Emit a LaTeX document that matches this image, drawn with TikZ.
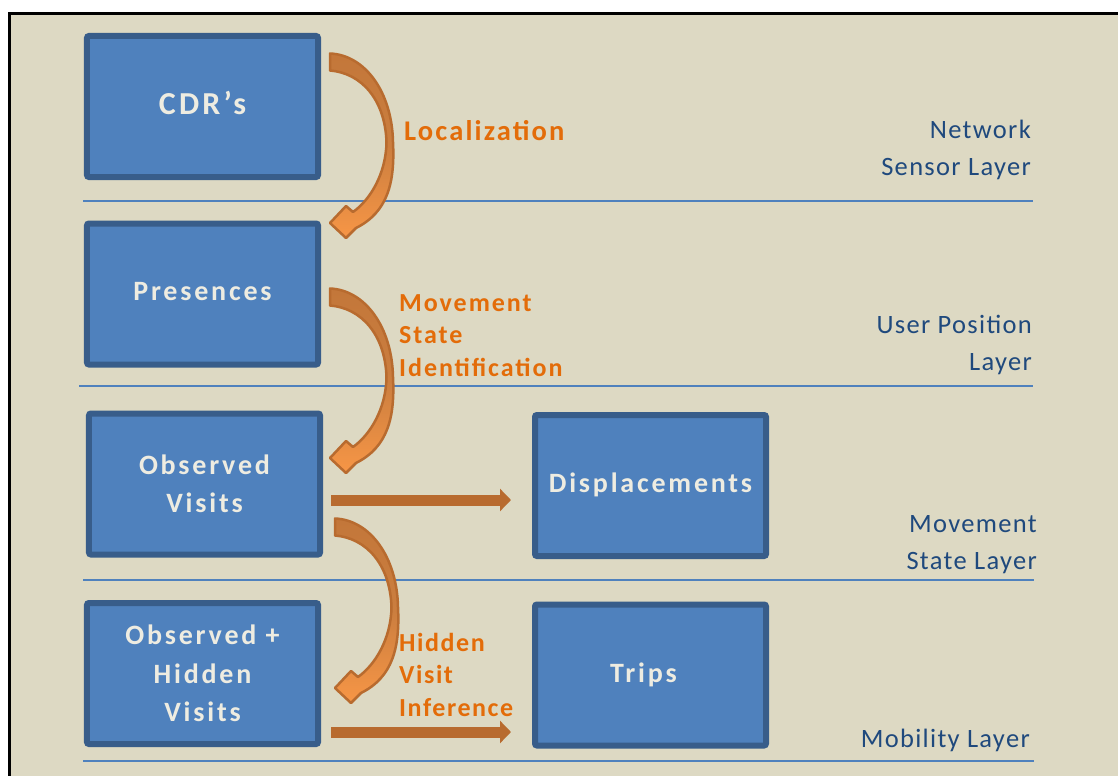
\documentclass[tikz,border=0pt]{standalone}
\usepackage{fontspec}
\setmainfont{Carlito}
\newfontfamily\stagefont{Carlito}[LetterSpace=10]
\newfontfamily\procfont{Carlito}[LetterSpace=6]
\newfontfamily\procwidefont{Carlito}[LetterSpace=7.5]
\newfontfamily\layerfont{Carlito}[LetterSpace=5]
\usetikzlibrary{arrows.meta}

\definecolor{paper}{HTML}{DDD9C3}
\definecolor{boxfill}{HTML}{4F81BD}
\definecolor{boxline}{HTML}{385D8A}
\definecolor{sepline}{HTML}{4F81BD}
\definecolor{layertext}{HTML}{1F497D}
\definecolor{proctext}{HTML}{E36C09}
\definecolor{stagetext}{HTML}{EEECE1}
\definecolor{flowdark}{HTML}{B86B2F}
\definecolor{flowtop}{HTML}{C3773A}
\definecolor{flowmid}{HTML}{CB7E3F}
\definecolor{flowlight}{HTML}{F79646}

\tikzset{
  stage/.style={draw=boxline, fill=boxfill, line width=6bp, rounded corners=2bp,
    minimum width=231bp, minimum height=141bp, inner sep=0pt, align=center,
    text=stagetext, font=\stagefont\bfseries\fontsize{28bp}{38.5bp}\selectfont},
  proc/.style={text=proctext, inner sep=0pt, align=left,
    font=\procfont\bfseries\fontsize{26bp}{32.5bp}\selectfont},
  layertag/.style={text=layertext, inner sep=0pt, align=right,
    font=\layerfont\fontsize{26.5bp}{36.5bp}\selectfont},
  sep/.style={draw=sepline, line width=2bp},
  flow/.style={draw=flowdark, line width=11bp,
    -{Triangle[length=11bp,width=22bp]}, shorten >=21bp},
  bandarrow/.pic={
    \path[draw=flowdark, line width=2.5bp, line join=round,
          top color=flowtop, bottom color=flowlight, middle color=flowmid]
      (0,-8.5) .. controls (35,-7) and (62,30) .. (63,80)
      .. controls (65,120) and (58,150) .. (26,166)
      -- (16,176) -- (0,161) -- (16,144) -- (23,150)
      .. controls (40,138) and (56,112) .. (56.5,80)
      .. controls (55,37) and (31,11) .. (0,8.5) -- cycle;
  }
}

\begin{document}
\begin{tikzpicture}[x=1bp, y=-1bp]
  \useasboundingbox (0,0) rectangle (1118,776);
  \clip (0,0) rectangle (1118,776);
  \fill[white] (0,0) rectangle (1118,776);
  \draw[line width=3.5bp, fill=paper] (9.5,13.3) rectangle (1140,800);

  % layer separators
  \draw[sep] (83,201) -- (1033,201);
  \draw[sep] (79,386) -- (1033,386);
  \draw[sep] (83,580) -- (1034,580);
  \draw[sep] (83,761) -- (1034,761);

  % processing stages
  \node[stage] (cdr)   at (202.5,106.5) {\fontsize{32bp}{38.5bp}\selectfont\raisebox{8bp}{CDR’s}};
  \node[stage] (pres)  at (202.5,294)   {\raisebox{6bp}{Presences}};
  \node[stage] (ov)    at (204.5,484)   {Observed\\Visits};
  \node[stage] (ohv)   at (202.5,673.5) {Observed +\\Hidden\\Visits};
  \node[stage] (disp)  at (650.5,485.5) {\raisebox{6bp}{Displacements}};
  \node[stage] (trips) at (650.5,675)   {Trips\hspace*{14bp}};

  % transformations between stages
  \pic at (330,62)  {bandarrow};
  \pic at (330,297) {bandarrow};
  \pic at (335,527) {bandarrow};
  \draw[flow, shorten <=8bp]  ([yshift=-16bp]ov.east)   -- ([yshift=-16bp]ov.east -| disp.west);
  \draw[flow, shorten <=10bp] ([yshift=-58.5bp]ohv.east) -- ([yshift=-58.5bp]ohv.east -| trips.west);

  % transformation names (base anchor sits on the last line)
  \node[proc, anchor=base west] (loc) at (404,140)
    {\procwidefont\fontsize{28.5bp}{32.5bp}\selectfont Localization};
  \node[proc, anchor=base west, font=\procwidefont\bfseries\fontsize{26bp}{32.5bp}\selectfont]
    (msi) at (399,376) {Movement\\State\\Identification};
  \node[proc, anchor=base west] (hvi) at (399,716) {Hidden\\Visit\\Inference};

  % layer names
  \node[layertag, anchor=base east] (lnet) at (1031,175) {Network\\Sensor Layer};
  \node[layertag, anchor=base east] (lusr) at (1032,370) {User Position\\Layer};
  \node[layertag, anchor=base east] (lmov) at (1037,569) {Movement\\State Layer};
  \node[layertag, anchor=base east] (lmob) at (1030,747) {Mobility Layer};
\end{tikzpicture}
\end{document}
